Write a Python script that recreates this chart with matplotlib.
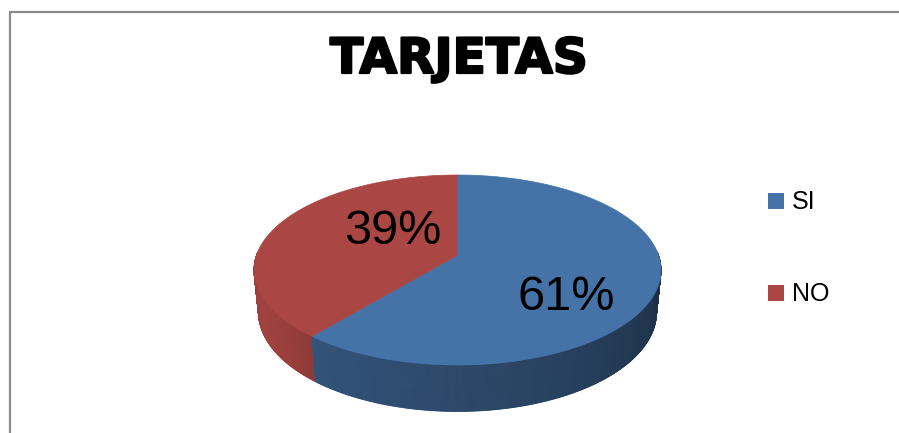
import numpy as np
import matplotlib
matplotlib.use("Agg")
import matplotlib.pyplot as plt
from matplotlib.patches import Polygon, Rectangle
from matplotlib.lines import Line2D
import matplotlib.patheffects as pe

# --- data -------------------------------------------------------------
categories = ["SI", "NO"]
values = [61, 39]
title = "TARJETAS"

# --- style ------------------------------------------------------------
top_colors = ["#4572A7", "#AA4643"]
label_xy = [(566, 297), (393, 232)]          # label centres in pixel space

W, H = 899, 433
fig = plt.figure(figsize=(W / 100, H / 100), dpi=100)
ax = fig.add_axes([0, 0, 1, 1])
ax.set_xlim(0, W)
ax.set_ylim(H, 0)
ax.axis("off")

# chart-area border (left and top edges)
ax.add_line(Line2D([9.5, 9.5, W], [H, 12, 12], color="#8c8c8c", lw=1.6,
                   solid_joinstyle="miter"))

# --- 3-D disc seen in perspective --------------------------------------
elev = np.radians(29.0)      # camera elevation
dist = 5.6                   # camera distance (disc radius = 1)
thick = 0.255                # disc thickness
ce, se = np.cos(elev), np.sin(elev)
cam = np.array([0.0, -dist * ce, dist * se])
right = np.array([1.0, 0.0, 0.0])
fwd = np.array([0.0, ce, -se])
up = np.array([0.0, se, ce])


def project(theta_deg, z):
    th = np.radians(np.atleast_1d(theta_deg))
    pts = np.stack([np.cos(th), np.sin(th), np.full_like(th, z)], axis=1)
    rel = pts - cam
    zc = rel @ fwd
    return (rel @ right) / zc, (rel @ up) / zc


# map screen coordinates so that the top rim fills its pixel box
box_x = (254, 661)
box_y = (175, 365)
sx_all, sy_all = project(np.linspace(0, 360, 2001), 0.0)
kx = (box_x[1] - box_x[0]) / (sx_all.max() - sx_all.min())
ky = (box_y[1] - box_y[0]) / (sy_all.max() - sy_all.min())
ox = box_x[0] - kx * sx_all.min()
oy = box_y[0] + ky * sy_all.max()


def to_px(theta_deg, z):
    sx, sy = project(theta_deg, z)
    return ox + kx * sx, oy - ky * sy


def centre_px(z):
    rel = np.array([0.0, 0.0, z]) - cam
    zc = rel @ fwd
    return ox + kx * (rel @ right) / zc, oy - ky * (rel @ up) / zc


# slice angle ranges: first slice starts at 12 o'clock going clockwise
total = float(sum(values))
ranges = []
start = 90.0
for v in values:
    sweep = 360.0 * v / total
    ranges.append((start - sweep, start))
    start -= sweep


def slice_of(t):
    t = (t - 90.0) % 360.0 - 360.0 + 90.0   # into (-270, 90]
    for i, (lo, hi) in enumerate(ranges):
        if lo <= t <= hi:
            return i
    return 0


def shade(hexcol, f):
    rgb = np.array(matplotlib.colors.to_rgb(hexcol))
    return tuple(np.clip(rgb * f, 0, 1))


# visible outer side (front half of the cylinder)
n = 720
ts = np.linspace(178, 362, n + 1)
for t0, t1 in zip(ts[:-1], ts[1:]):
    tm = 0.5 * (t0 + t1)
    i = slice_of(tm)
    u = np.clip((tm - 180) / 180.0, 0, 1)   # 0 at left rim, 1 at right rim
    if i == 0:
        f = 0.84 - 0.44 * u ** 1.1
    else:
        f = 0.84 + 0.10 * np.sin(np.pi * min(u / 0.28, 1.0)) - 0.05 * (u < 0.08)
    col = shade(top_colors[i], f)
    (x0, x1), (y0, y1) = to_px([t0, t1], 0.0)
    (bx0, bx1), (by0, by1) = to_px([t0, t1], -thick)
    ax.add_patch(Polygon([(x0, y0), (x1, y1), (bx1, by1), (bx0, by0)],
                         closed=True, facecolor=col, edgecolor=col, lw=0.6))

# top faces
c0 = centre_px(0.0)
for i, (lo, hi) in enumerate(ranges):
    xs, ys = to_px(np.linspace(lo, hi, 300), 0.0)
    pts = [c0] + list(zip(xs, ys))
    ax.add_patch(Polygon(pts, closed=True, facecolor=top_colors[i],
                         edgecolor=top_colors[i], lw=0.5))

# value labels
for v, (lx, ly) in zip(values, label_xy):
    ax.text(lx, ly, f"{v}%", fontsize=35, family="Liberation Sans",
            ha="center", va="center", color="black")

# title
ax.text(459, 59, title, fontsize=35, family="DejaVu Sans",
        fontweight="heavy", ha="center", va="center", color="black",
        path_effects=[pe.withStroke(linewidth=1.6, foreground="black")])

# legend
leg_y = [201, 293]
for cat, col, ly in zip(categories, top_colors, leg_y):
    ax.add_patch(Rectangle((768, ly - 8), 16, 16, facecolor=col,
                           edgecolor="none"))
    ax.text(792, ly + 1, cat, fontsize=18, family="Liberation Sans",
            ha="left", va="center", color="black")

fig.savefig("out.png", dpi=100)
